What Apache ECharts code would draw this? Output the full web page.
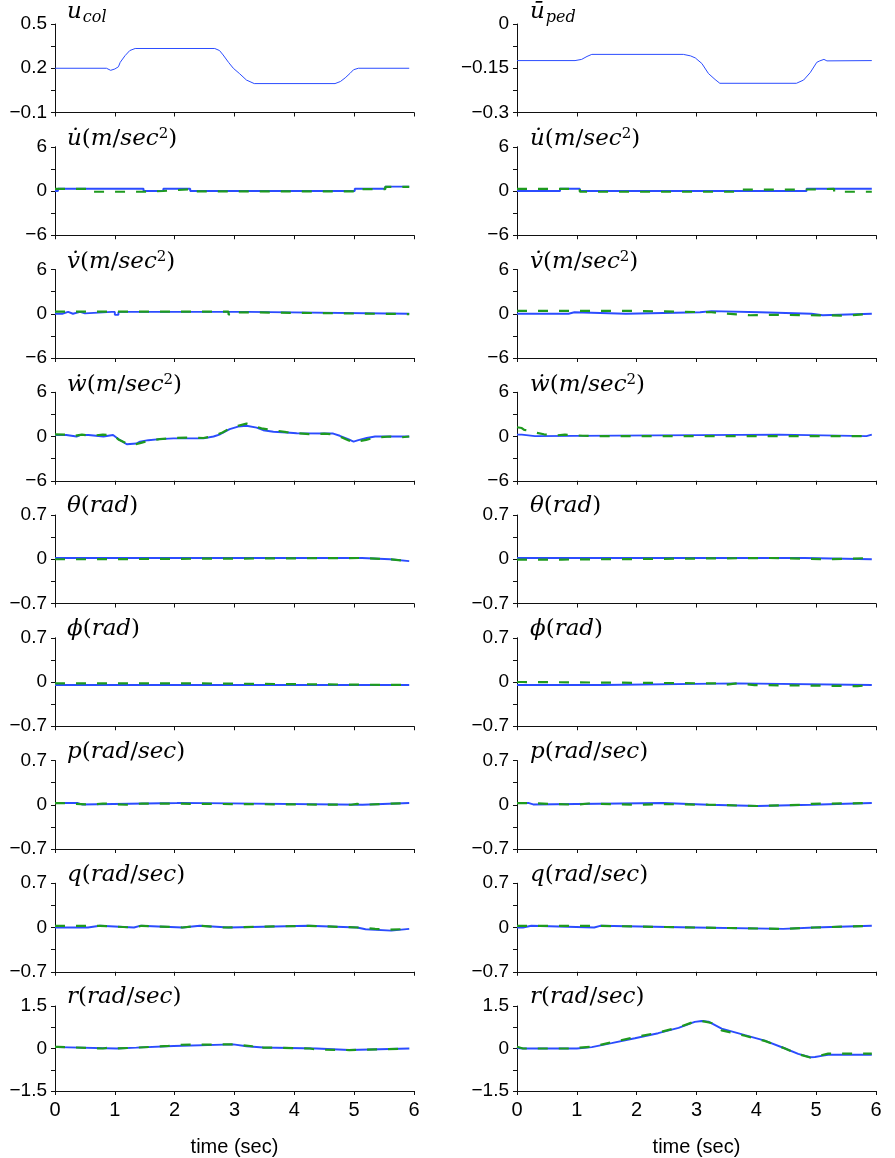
<!DOCTYPE html>
<html>
<head>
<meta charset="utf-8">
<script src="https://cdn.jsdelivr.net/npm/echarts@6/dist/echarts.min.js"></script>
<style>
  html, body { margin: 0; padding: 0; background: #fff; }
  #chart { width: 895px; height: 1158px; }
</style>
</head>
<body>
<div id="chart"></div>
<script>
// ---- time axis ----
const timeTicks = [0, 1, 2, 3, 4, 5, 6];

// ---- y-axis ticks / labels per row ----
const colInputTicks = [-0.1, 0.05, 0.2, 0.35, 0.5];
const colInputLabels = [-0.1, 0.2, 0.5];
const pedInputTicks = [-0.3, -0.225, -0.15, -0.075, 0];
const pedInputLabels = [-0.3, -0.15, 0];
const accelTicks = [-6, -3, 0, 3, 6];
const accelLabels = [-6, 0, 6];
const angleTicks = [-0.7, -0.35, 0, 0.35, 0.7];
const angleLabels = [-0.7, 0, 0.7];
const yawTicks = [-1.5, -0.75, 0, 0.75, 1.5];
const yawLabels = [-1.5, 0, 1.5];

// ---- control inputs [time, value] ----
const colInput = [[0,0.2],[0.86,0.2],[0.93,0.186],[1.0,0.195],[1.06,0.21],[1.09,0.24],[1.17,0.285],[1.25,0.32],[1.34,0.334],[2.67,0.334],[2.75,0.32],[2.81,0.29],[2.9,0.24],[2.98,0.2],[3.08,0.165],[3.2,0.12],[3.33,0.096],[4.68,0.096],[4.77,0.11],[4.85,0.135],[4.93,0.165],[4.99,0.19],[5.07,0.2],[5.92,0.2]];
const pedInput = [[0,-0.124],[0.97,-0.124],[1.08,-0.12],[1.17,-0.11],[1.25,-0.103],[2.78,-0.103],[2.9,-0.108],[2.98,-0.115],[3.09,-0.134],[3.2,-0.168],[3.31,-0.188],[3.39,-0.201],[4.67,-0.201],[4.79,-0.19],[4.9,-0.165],[5.01,-0.13],[5.06,-0.125],[5.13,-0.12],[5.18,-0.125],[5.93,-0.124]];

// ---- collective manoeuvre: measured (blue) and model (green) ----
const colUdotAct = [[0,0.0],[0.05,0.3],[1.48,0.0],[1.81,0.3],[2.26,0.0],[5.01,0.3],[5.52,0.6],[5.92,0.6]];
const colUdotMod = [[0,0.3],[0.6,-0.1],[1.48,0.0],[1.81,0.25],[2.26,-0.05],[5.01,0.25],[5.52,0.55],[5.92,0.55]];
const colVdotAct = [[0,0.0],[0.12,0.25],[0.22,0.0],[0.3,0.25],[0.42,0.05],[0.5,0.25],[0.95,0.25],[1.0,-0.15],[1.06,0.25],[3.23,0.0],[5.92,0.0]];
const colVdotMod = [[0,0.3],[2.9,-0.1],[3.05,0.2],[3.2,-0.05],[5.92,-0.05]];
const colWdotAct = [[0,0.2],[0.19,0.2],[0.22,0.0],[0.36,0.0],[0.42,0.2],[0.56,0.2],[0.58,0.0],[0.81,0.0],[0.83,0.2],[0.97,0.2],[1.06,-0.35],[1.2,-1.05],[1.36,-0.95],[1.42,-0.7],[1.56,-0.5],[1.75,-0.35],[1.98,-0.25],[2.48,-0.25],[2.65,0.0],[2.76,0.3],[2.92,1.0],[3.06,1.35],[3.2,1.45],[3.37,1.2],[3.48,0.85],[3.65,0.65],[3.87,0.55],[4.04,0.45],[4.65,0.4],[4.76,0.1],[4.9,-0.35],[4.99,-0.7],[5.07,-0.5],[5.21,-0.2],[5.35,0.0],[5.92,0.0]];
const colWdotMod = [[0,0.3],[0.2,0.25],[0.3,0.05],[0.45,0.25],[0.6,0.1],[0.8,0.25],[0.97,0.2],[1.06,-0.4],[1.2,-0.95],[1.3,-1.15],[1.42,-0.9],[1.56,-0.6],[1.75,-0.35],[1.98,-0.2],[2.3,-0.15],[2.48,-0.2],[2.65,0.05],[2.8,0.55],[2.92,1.1],[3.06,1.45],[3.2,1.75],[3.3,1.5],[3.45,1.1],[3.6,0.9],[3.87,0.6],[4.04,0.45],[4.3,0.3],[4.5,0.4],[4.65,0.3],[4.76,0.0],[4.9,-0.5],[5.0,-0.8],[5.1,-0.6],[5.2,-0.45],[5.35,-0.15],[5.6,0.0],[5.75,-0.15],[5.92,0.0]];
const colThetaAct = [[0,0.02],[5.13,0.0],[5.6,-0.03],[5.92,-0.03]];
const colThetaMod = [[0,0.0],[0.55,0.02],[5.13,0.0],[5.6,-0.03],[5.92,-0.03]];
const colPhiAct = [[0,-0.048],[5.92,-0.048]];
const colPhiMod = [[0,-0.022],[2.42,-0.048],[5.92,-0.048]];
const colPAct = [[0,0.027],[0.38,0.005],[0.45,0.027],[2.04,0.0],[2.07,0.03],[2.1,0.0],[5.14,0.027],[5.92,0.027]];
const colPMod = [[0,0.027],[0.1,0.0],[0.6,0.02],[0.8,0.0],[1.2,0.02],[1.45,0.0],[4.95,0.015],[5.05,0.0],[5.14,0.027],[5.92,0.027]];
const colQAct = [[0,0.0],[0.55,0.027],[0.75,0.0],[1.32,0.027],[1.42,0.0],[2.13,0.027],[2.42,0.0],[2.9,0.027],[4.24,0.0],[5.05,-0.027],[5.19,-0.05],[5.62,-0.022],[5.92,-0.022]];
const colQMod = [[0,0.027],[0.75,0.0],[1.3,0.027],[1.45,0.0],[2.13,0.027],[2.42,0.0],[2.8,0.027],[4.24,0.0],[5.05,-0.022],[5.35,-0.035],[5.6,-0.022],[5.92,-0.022]];
const colRAct = [[0,0.05],[0.05,0.0],[1.03,0.03],[1.36,0.09],[1.98,0.145],[2.98,0.08],[3.2,0.035],[3.48,0.0],[4.37,-0.055],[4.92,0.0],[5.92,0.0]];
const colRMod = [[0,0.06],[0.05,0.0],[0.8,0.035],[0.9,0.0],[1.03,0.03],[1.36,0.09],[1.9,0.13],[2.0,0.145],[2.98,0.08],[3.3,0.0],[3.4,0.035],[3.48,0.0],[4.26,-0.04],[4.37,-0.055],[4.92,0.0],[5.92,0.0]];

// ---- pedal manoeuvre: measured (blue) and model (green) ----
const pedUdotAct = [[0,0.0],[0.72,0.3],[1.05,0.0],[4.84,0.3],[5.93,0.3]];
const pedUdotMod = [[0,0.3],[1.05,-0.1],[3.76,0.2],[4.84,0.3],[5.3,-0.1],[5.93,-0.1]];
const pedVdotAct = [[0,0.0],[0.86,0.2],[0.96,0.0],[1.82,0.2],[3.06,0.35],[3.25,0.2],[4.06,0.0],[4.92,-0.2],[5.11,0.0],[5.93,0.0]];
const pedVdotMod = [[0,0.4],[1.82,0.2],[3.25,0.05],[3.45,-0.2],[3.9,-0.15],[4.3,-0.25],[5.5,0.0],[5.93,0.0]];
const pedWdotAct = [[0,0.25],[0.08,0.05],[0.3,0.25],[4.39,0.05],[5.84,0.25],[5.93,0.25]];
const pedWdotMod = [[0,1.25],[0.08,1.15],[0.12,0.9],[0.18,0.85],[0.3,0.55],[0.45,0.3],[0.65,0.15],[0.8,0.25],[1.1,0.1],[1.35,0.05],[5.93,0.05]];
const pedThetaAct = [[0,0.02],[4.81,0.0],[5.93,0.0]];
const pedThetaMod = [[0,-0.005],[0.75,0.02],[4.2,0.0],[5.25,0.02],[5.93,0.02]];
const pedPhiAct = [[0,-0.048],[1.43,-0.022],[3.68,-0.048],[5.93,-0.048]];
const pedPhiMod = [[0,0.0],[0.1,-0.022],[3.35,-0.048],[3.45,-0.022],[3.68,-0.048],[3.97,-0.065],[5.69,-0.048],[5.93,-0.048]];
const pedPAct = [[0,0.027],[0.2,0.005],[0.27,0.027],[2.44,0.0],[3.2,-0.02],[4.02,0.0],[4.92,0.027],[5.93,0.027]];
const pedPMod = [[0,0.027],[0.15,0.0],[1.0,0.02],[1.2,0.0],[2.0,0.01],[2.44,0.0],[3.2,-0.02],[4.02,0.0],[4.8,0.015],[4.92,0.027],[5.93,0.027]];
const pedQAct = [[0,0.0],[0.1,0.027],[0.24,0.0],[1.29,0.027],[1.39,0.0],[2.96,-0.022],[4.45,0.0],[4.97,0.027],[5.93,0.027]];
const pedQMod = [[0,0.027],[1.3,0.0],[2.96,-0.022],[4.45,0.0],[4.97,0.027],[5.93,0.027]];
const pedRAct = [[0,0.02],[0.1,0.0],[1.0,0.0],[1.02,0.03],[1.25,0.05],[1.58,0.19],[1.97,0.36],[2.36,0.54],[2.7,0.73],[2.97,0.94],[3.09,0.97],[3.2,0.95],[3.42,0.7],[3.81,0.47],[4.14,0.28],[4.48,0.0],[4.7,-0.19],[4.9,-0.31],[4.98,-0.3],[5.09,-0.26],[5.2,-0.22],[5.93,-0.22]];
const pedRMod = [[0,0.06],[0.1,0.0],[1.0,0.0],[1.05,0.03],[1.25,0.06],[1.58,0.22],[1.97,0.4],[2.36,0.56],[2.7,0.75],[2.97,0.95],[3.09,0.97],[3.25,0.9],[3.42,0.64],[3.81,0.45],[4.14,0.27],[4.48,0.0],[4.7,-0.2],[4.9,-0.32],[5.0,-0.28],[5.2,-0.18],[5.93,-0.18]];

// ---- panel titles (rich text) ----
const dotU = 'u\u0307', dotV = 'v\u0307', dotW = 'w\u0307', barU = 'u\u0304';
const accTitle = s => '{i|' + s + '}{n|(}{i|m}{n|/}{i|sec}{sup|2}{n|)}';
const radTitle = s => '{i|' + s + '}{n|(}{i|rad}{n|)}';
const rateTitle = s => '{i|' + s + '}{n|(}{i|rad}{n|/}{i|sec}{n|)}';

const rows = [
  { ticks: [colInputTicks, pedInputTicks], labels: [colInputLabels, pedInputLabels],
    range: [[-0.1, 0.5], [-0.3, 0]],
    titles: ['{i|u}{sub|col}', '{i|' + barU + '}{sub|ped}'],
    data: [[colInput, null], [pedInput, null]], step: [false, false] },
  { ticks: [accelTicks, accelTicks], labels: [accelLabels, accelLabels], range: [[-6, 6], [-6, 6]],
    titles: [accTitle(dotU), accTitle(dotU)],
    data: [[colUdotAct, colUdotMod], [pedUdotAct, pedUdotMod]], step: [true, true] },
  { ticks: [accelTicks, accelTicks], labels: [accelLabels, accelLabels], range: [[-6, 6], [-6, 6]],
    titles: [accTitle(dotV), accTitle(dotV)],
    data: [[colVdotAct, colVdotMod], [pedVdotAct, pedVdotMod]], step: [true, true] },
  { ticks: [accelTicks, accelTicks], labels: [accelLabels, accelLabels], range: [[-6, 6], [-6, 6]],
    titles: [accTitle(dotW), accTitle(dotW)],
    data: [[colWdotAct, colWdotMod], [pedWdotAct, pedWdotMod]], step: [false, 'mixed'] },
  { ticks: [angleTicks, angleTicks], labels: [angleLabels, angleLabels], range: [[-0.7, 0.7], [-0.7, 0.7]],
    titles: [radTitle('\u03B8'), radTitle('\u03B8')],
    data: [[colThetaAct, colThetaMod], [pedThetaAct, pedThetaMod]], step: [true, true] },
  { ticks: [angleTicks, angleTicks], labels: [angleLabels, angleLabels], range: [[-0.7, 0.7], [-0.7, 0.7]],
    titles: [radTitle('\u03D5'), radTitle('\u03D5')],
    data: [[colPhiAct, colPhiMod], [pedPhiAct, pedPhiMod]], step: [true, true] },
  { ticks: [angleTicks, angleTicks], labels: [angleLabels, angleLabels], range: [[-0.7, 0.7], [-0.7, 0.7]],
    titles: [rateTitle('p'), rateTitle('p')],
    data: [[colPAct, colPMod], [pedPAct, pedPMod]], step: [true, true] },
  { ticks: [angleTicks, angleTicks], labels: [angleLabels, angleLabels], range: [[-0.7, 0.7], [-0.7, 0.7]],
    titles: [rateTitle('q'), rateTitle('q')],
    data: [[colQAct, colQMod], [pedQAct, pedQMod]], step: [true, true] },
  { ticks: [yawTicks, yawTicks], labels: [yawLabels, yawLabels], range: [[-1.5, 1.5], [-1.5, 1.5]],
    titles: [rateTitle('r'), rateTitle('r')],
    data: [[colRAct, colRMod], [pedRAct, pedRMod]], step: [true, false] }
];

// ---- layout ----
const colLeft = [55, 517];
const plotWidth = 359;
const rowTop0 = 24, rowPitch = 122.75, plotHeight = 88.5;
const titleLeft = [67, 530];

const BLUE = '#2b4cff';
const GREEN = '#1e9a1e';
const AXIS = '#111';
const fmt = v => (v < 0 ? '\u2212' + String(-v) : String(v));

const serif = "'DejaVu Serif', 'Liberation Serif', serif";
const sans = "'Liberation Sans', Arial, sans-serif";
const titleRich = {
  i: { fontFamily: serif, fontStyle: 'italic', fontSize: 23, color: '#000', fontWeight: 'normal' },
  n: { fontFamily: serif, fontStyle: 'normal', fontSize: 23, color: '#000', fontWeight: 'normal' },
  sub: { fontFamily: serif, fontStyle: 'italic', fontSize: 16, color: '#000', fontWeight: 'normal', padding: [11, 0, 0, 1] },
  sup: { fontFamily: serif, fontStyle: 'normal', fontSize: 15, color: '#000', fontWeight: 'normal', padding: [0, 0, 10, 0] }
};

const grid = [], xAxis = [], yAxis = [], series = [], title = [];
let gi = 0;
rows.forEach((row, r) => {
  const top = rowTop0 + r * rowPitch;
  const isBottom = r === rows.length - 1;
  for (let c = 0; c < 2; c++) {
    grid.push({ left: colLeft[c], top: top, width: plotWidth, height: plotHeight });
    xAxis.push({
      gridIndex: gi, type: 'value', min: 0, max: 6, interval: 1,
      axisLine: { onZero: false, lineStyle: { color: AXIS, width: 1 } },
      axisTick: { show: true, length: 4, lineStyle: { color: AXIS } },
      axisLabel: { show: isBottom, fontFamily: sans, fontSize: 20, color: '#000', margin: 9 },
      splitLine: { show: false },
      name: isBottom ? 'time (sec)' : '',
      nameLocation: 'middle', nameGap: 46,
      nameTextStyle: { fontFamily: sans, fontSize: 20, color: '#000' }
    });
    yAxis.push({
      gridIndex: gi, type: 'value', min: row.range[c][0], max: row.range[c][1],
      axisLine: { show: true, onZero: false, lineStyle: { color: AXIS, width: 1 } },
      axisTick: { show: true, length: 4, customValues: row.ticks[c], lineStyle: { color: AXIS } },
      axisLabel: { customValues: row.labels[c], formatter: fmt, fontFamily: sans, fontSize: 19, color: '#000', margin: 8 },
      splitLine: { show: false }
    });
    title.push({
      text: row.titles[c], left: titleLeft[c], top: r === 0 ? top - 25 : top - 20, padding: 0,
      textStyle: { rich: titleRich, fontSize: 23 }
    });
    const [act, mod] = row.data[c];
    const st = row.step[c];
    series.push({
      type: 'line', xAxisIndex: gi, yAxisIndex: gi, data: act, showSymbol: false, silent: true,
      step: (st === true || st === 'mixed') ? 'end' : false,
      lineStyle: { color: BLUE, width: r === 0 ? 1 : 1.9 }, z: 2
    });
    if (mod) {
      series.push({
        type: 'line', xAxisIndex: gi, yAxisIndex: gi, data: mod, showSymbol: false, silent: true,
        step: st === true ? 'end' : false,
        lineStyle: { color: GREEN, width: 2.2, type: [10, 11] }, z: 3
      });
    }
    gi++;
  }
});

const chart = echarts.init(document.getElementById('chart'), null, { renderer: 'canvas' });
chart.setOption({
  animation: false,
  backgroundColor: '#fff',
  title: title,
  grid: grid,
  xAxis: xAxis,
  yAxis: yAxis,
  series: series
});
</script>
</body>
</html>
